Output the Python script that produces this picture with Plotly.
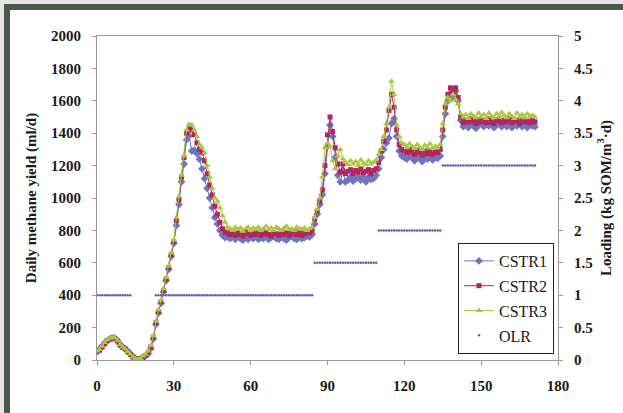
import plotly.graph_objects as go

# ---------------- data ----------------
days = list(range(172))

cstr1 = [55, 65, 85, 105, 120, 130, 138, 135, 120, 95,
         80, 70, 55, 38, 20, 8, 3, 5, 15, 25,
         40, 70, 130, 220, 290, 350, 420, 490, 560, 640,
         720, 830, 960, 1100, 1210, 1360, 1385, 1290, 1295, 1275,
         1240, 1180, 1120, 1060, 1000, 940, 880, 840, 800, 770,
         755, 760, 750, 765, 745, 760, 750, 740, 755, 745,
         760, 750, 765, 745, 755, 750, 760, 745, 755, 765,
         750, 745, 760, 750, 740, 755, 765, 750, 745, 760,
         750, 755, 765, 760, 775, 840, 900, 960, 1020, 1150,
         1320, 1450, 1380, 1250, 1140, 1100, 1170, 1100, 1110, 1130,
         1105, 1120, 1135, 1110, 1125, 1100, 1130, 1115, 1120, 1140,
         1180, 1250, 1300, 1340, 1370, 1460, 1490, 1380, 1290, 1260,
         1250, 1240, 1270, 1250, 1230, 1260, 1245, 1225, 1250, 1240,
         1265, 1235, 1250, 1245, 1260, 1380, 1520, 1600, 1640, 1620,
         1660, 1600, 1480, 1440, 1450, 1435, 1460, 1445, 1430, 1450,
         1465, 1440, 1455, 1445, 1460, 1435, 1450, 1465, 1440, 1455,
         1440, 1460, 1435, 1450, 1445, 1460, 1440, 1455, 1435, 1450,
         1445, 1440]

cstr2 = [50, 60, 80, 100, 118, 128, 135, 132, 118, 92,
         78, 68, 52, 35, 18, 6, 2, 6, 18, 28,
         45, 80, 140, 230, 300, 360, 430, 500, 570, 650,
         730, 860, 990, 1130, 1250, 1400, 1430, 1420, 1390, 1340,
         1300, 1280, 1230, 1150, 1080, 1020, 950, 900, 850, 810,
         790, 785, 775, 790, 770, 785, 775, 765, 790, 780,
         770, 785, 775, 790, 770, 780, 790, 775, 765, 785,
         780, 770, 790, 775, 785, 770, 780, 795, 775, 785,
         770, 780, 790, 785, 800, 870, 920, 980, 1050, 1200,
         1390, 1500, 1410, 1310, 1210, 1160, 1210, 1150, 1165, 1175,
         1150, 1170, 1160, 1180, 1155, 1165, 1175, 1150, 1170, 1180,
         1220, 1290, 1350, 1420, 1540, 1640, 1560, 1420, 1330, 1300,
         1290, 1280, 1300, 1285, 1270, 1295, 1280, 1265, 1290, 1275,
         1295, 1270, 1285, 1280, 1300, 1420, 1560, 1640, 1680, 1650,
         1680, 1620, 1500, 1465, 1480, 1470, 1490, 1475, 1460, 1485,
         1470, 1480, 1465, 1490, 1470, 1460, 1485, 1475, 1465, 1480,
         1470, 1490, 1465, 1475, 1480, 1460, 1485, 1470, 1475, 1465,
         1480, 1470]

cstr3 = [55, 65, 85, 108, 125, 135, 142, 138, 122, 95,
         80, 68, 52, 35, 18, 8, 5, 10, 25, 35,
         55, 90, 150, 240, 310, 370, 440, 510, 580, 660,
         740, 880, 1010, 1140, 1260, 1420, 1455, 1450, 1420, 1380,
         1330, 1310, 1280, 1200, 1130, 1060, 1000, 980, 940, 890,
         850, 820, 810, 800, 820, 805, 815, 795, 810, 820,
         800, 815, 805, 820, 800, 810, 825, 805, 815, 800,
         820, 810, 800, 815, 825, 805, 810, 800, 820, 810,
         805, 815, 800, 810, 820, 880, 930, 1000, 1130, 1310,
         1340, 1320, 1230, 1180, 1260, 1300, 1240, 1220, 1205, 1230,
         1210, 1225, 1200, 1235, 1215, 1205, 1230, 1210, 1220, 1235,
         1270, 1300, 1380, 1460, 1560, 1720, 1640, 1450, 1380, 1340,
         1330, 1310, 1335, 1320, 1305, 1330, 1315, 1300, 1325, 1310,
         1335, 1305, 1320, 1310, 1330, 1460, 1580, 1620, 1600, 1640,
         1610, 1580, 1520, 1500, 1515, 1490, 1520, 1505, 1495, 1525,
         1500, 1515, 1490, 1525, 1505, 1495, 1520, 1500, 1530, 1510,
         1495, 1520, 1505, 1490, 1525, 1500, 1515, 1495, 1520, 1505,
         1510, 1500]

# OLR step levels (kg SOM/m3.d): start day, end day, level
olr_start = [0, 23, 85, 110, 135]
olr_end = [13, 84, 109, 134, 171]
olr_level = [1, 1, 1.5, 2, 3]

x_ticks = [0, 30, 60, 90, 120, 150, 180]

# expand OLR steps into daily points (gaps between steps left empty)
olr_x, olr_y = [], []
for s, e, v in zip(olr_start, olr_end, olr_level):
    for d in range(s, e + 1):
        olr_x.append(d)
        olr_y.append(v)
    olr_x.append(None)
    olr_y.append(None)

SERIF = "Liberation Serif, Times New Roman, Times, serif"
C1 = "#6f74bd"
C2 = "#b3245f"
C3 = "#abc63f"

fig = go.Figure()
fig.add_trace(go.Scatter(x=days, y=cstr1, name="CSTR1", mode="lines+markers",
                         line=dict(color=C1, width=1),
                         marker=dict(symbol="diamond", size=6, color=C1),
                         legendgroup="a"))
fig.add_trace(go.Scatter(x=days, y=cstr2, name="CSTR2", mode="lines+markers",
                         line=dict(color=C2, width=1),
                         marker=dict(symbol="square", size=5, color=C2),
                         legendgroup="b"))
fig.add_trace(go.Scatter(x=days, y=cstr3, name="CSTR3", mode="lines+markers",
                         line=dict(color=C3, width=1),
                         marker=dict(symbol="triangle-up", size=6, color=C3),
                         legendgroup="c"))
fig.add_trace(go.Scatter(x=olr_x, y=olr_y, name="OLR", mode="markers",
                         marker=dict(symbol="circle", size=2.5, color="#5a60b0"),
                         yaxis="y2", legendgroup="d"))

L, R, T, B = 97, 558, 36, 360
W, H = 623, 413


def px(xp):
    return (xp - L) / (R - L)


def py(yp):
    return (B - yp) / (B - T)


frame_col = "#4b5849"
shapes = [
    dict(type="rect", xref="paper", yref="paper", x0=px(0), x1=px(W), y0=py(0), y1=py(4),
         fillcolor="#e4e6e3", line=dict(width=0), layer="below"),
    dict(type="rect", xref="paper", yref="paper", x0=px(0), x1=px(4), y0=py(0), y1=py(H),
         fillcolor="#e4e6e3", line=dict(width=0), layer="below"),
    dict(type="rect", xref="paper", yref="paper", x0=px(4), x1=px(W), y0=py(4), y1=py(10),
         fillcolor=frame_col, line=dict(width=0)),
    dict(type="rect", xref="paper", yref="paper", x0=px(4), x1=px(10), y0=py(4), y1=py(H),
         fillcolor=frame_col, line=dict(width=0)),
]

tickfont = dict(family=SERIF, size=15, color="#1a1a1a", weight="bold")
titlefont = dict(family=SERIF, size=15, color="#1a1a1a", weight="bold")

fig.update_layout(
    width=W, height=H,
    margin=dict(l=L, r=W - R, t=T, b=H - B, pad=0),
    paper_bgcolor="white", plot_bgcolor="white",
    font=dict(family=SERIF),
    showlegend=True,
    legend=dict(x=px(458), y=py(243), xanchor="left", yanchor="top",
                bordercolor="#222222", borderwidth=1, bgcolor="white",
                font=dict(family=SERIF, size=16, color="#1a1a1a"),
                tracegroupgap=1, traceorder="grouped", itemwidth=30),
    xaxis=dict(range=[0, 180], tickvals=x_ticks, ticks="outside", ticklen=4,
               tickcolor="#999999", showline=True, linecolor="#999999", linewidth=1,
               mirror=True, showgrid=False, zeroline=False, tickfont=tickfont,
               ticklabelstandoff=8),
    yaxis=dict(range=[0, 2000], dtick=200, ticks="outside", ticklen=4,
               tickcolor="#999999", showline=True, linecolor="#999999", linewidth=1,
               showgrid=False, zeroline=False, tickfont=tickfont,
               ticklabelstandoff=8,
               title=dict(text="Daily methane yield (ml/d)", font=titlefont, standoff=10)),
    yaxis2=dict(range=[0, 5], dtick=0.5, overlaying="y", side="right",
                ticks="outside", ticklen=4, tickcolor="#999999",
                showline=True, linecolor="#999999", linewidth=1,
                showgrid=False, zeroline=False, tickfont=tickfont,
                ticklabelstandoff=8,
                title=dict(text="Loading (kg SOM/m<sup>3</sup>·d)", font=titlefont, standoff=8)),
    shapes=shapes,
)

fig.write_html("out.html",
               config={"displayModeBar": False},
               post_script="document.body.style.margin='0';document.body.style.overflow='hidden';")
